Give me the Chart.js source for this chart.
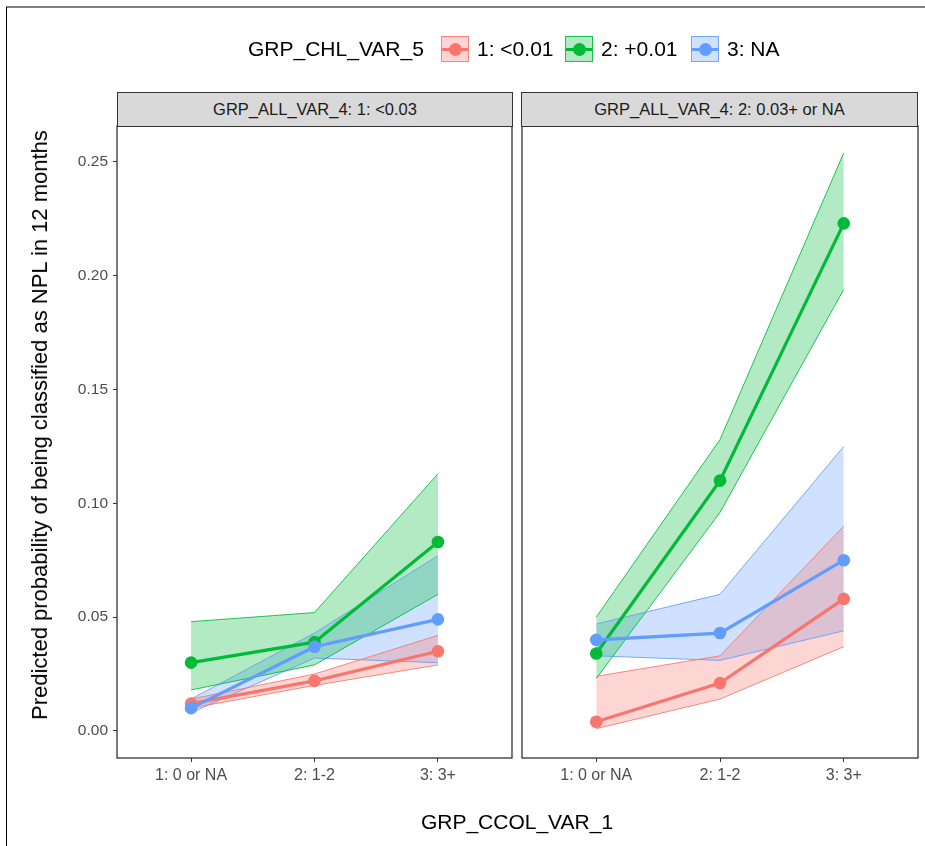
<!DOCTYPE html>
<html>
<head>
<meta charset="utf-8">
<script src="https://cdn.jsdelivr.net/npm/chart.js@4.4.1/dist/chart.umd.min.js"></script>
<style>
  html,body{margin:0;padding:0;background:#fff;}
  body{width:925px;height:846px;position:relative;overflow:hidden;font-family:"Liberation Sans",Arial,sans-serif;}
  canvas{position:absolute;left:0;top:0;}
  .txt{position:absolute;white-space:nowrap;color:#000;}
  .strip{position:absolute;background:#D9D9D9;border:1.3px solid #333;box-sizing:border-box;font-size:16.5px;color:#1A1A1A;display:flex;align-items:center;justify-content:center;}
  .key{position:absolute;box-sizing:border-box;border:1px solid;}
  .key .ln{position:absolute;left:0;right:0;top:50%;height:3px;margin-top:-1.5px;}
  .key .pt{position:absolute;left:50%;top:50%;width:13px;height:13px;margin:-6.5px 0 0 -6.5px;border-radius:50%;}
</style>
</head>
<body>
<div style="position:absolute;left:6px;top:6px;width:919px;height:2px;background:#7f7f7f;"></div>
<div style="position:absolute;left:6px;top:7px;width:1px;height:839px;background:#000;"></div>

<canvas id="c1" width="925" height="846"></canvas>
<canvas id="c2" width="925" height="846"></canvas>

<div id="legend"></div>
<div class="strip" style="left:117px;top:92px;width:396px;height:35px;">GRP_ALL_VAR_4: 1: &lt;0.03</div>
<div class="strip" style="left:521px;top:92px;width:397px;height:35px;">GRP_ALL_VAR_4: 2: 0.03+ or NA</div>
<div class="txt" style="left:40px;top:425px;font-size:22px;transform:translate(-50%,-50%) rotate(-90deg);">Predicted probability of being classified as NPL in 12 months</div>
<div class="txt" style="left:517px;top:822px;font-size:21px;transform:translate(-50%,-50%);">GRP_CCOL_VAR_1</div>

<script>
// ---- data ----
const categories = ['1: 0 or NA', '2: 1-2', '3: 3+'];
const legendTitle = 'GRP_CHL_VAR_5';
const seriesNames = ['1: <0.01', '2: +0.01', '3: NA'];
const panelNames = ['GRP_ALL_VAR_4: 1: <0.03', 'GRP_ALL_VAR_4: 2: 0.03+ or NA'];
const yTicks = [0, 0.05, 0.10, 0.15, 0.20, 0.25];

// panel 1 (1: <0.03)
const p1RedFit   = [0.012, 0.022, 0.035];
const p1RedLo    = [0.010, 0.020, 0.029];
const p1RedHi    = [0.014, 0.025, 0.042];
const p1GreenFit = [0.030, 0.039, 0.083];
const p1GreenLo  = [0.018, 0.029, 0.060];
const p1GreenHi  = [0.048, 0.052, 0.113];
const p1BlueFit  = [0.010, 0.037, 0.049];
const p1BlueLo   = [0.008, 0.032, 0.030];
const p1BlueHi   = [0.014, 0.043, 0.077];

// panel 2 (2: 0.03+ or NA)
const p2RedFit   = [0.004, 0.021, 0.058];
const p2RedLo    = [0.001, 0.014, 0.037];
const p2RedHi    = [0.024, 0.033, 0.090];
const p2GreenFit = [0.034, 0.110, 0.223];
const p2GreenLo  = [0.023, 0.096, 0.194];
const p2GreenHi  = [0.050, 0.128, 0.254];
const p2BlueFit  = [0.040, 0.043, 0.075];
const p2BlueLo   = [0.033, 0.031, 0.044];
const p2BlueHi   = [0.047, 0.060, 0.125];

// ---- styling ----
const colors = ['#F8766D', '#00BA38', '#619CFF'];
const fills  = ['rgba(248,118,109,0.3)', 'rgba(0,186,56,0.3)', 'rgba(97,156,255,0.3)'];
const edges  = ['rgba(248,118,109,0.85)', 'rgba(0,186,56,0.85)', 'rgba(97,156,255,0.85)'];
const Y_MIN = -0.0119, Y_MAX = 0.2658;

function pts(arr){ return arr.map((v,i)=>({x:i+1, y:v})); }

function buildDatasets(fit, lo, hi){
  const ds = [];
  for (let s = 0; s < 3; s++){
    ds.push({ data: pts(hi[s]), borderColor: edges[s], borderWidth: 1, pointRadius: 0,
              backgroundColor: fills[s], fill: '+1', order: 10 + s, tension: 0 });
    ds.push({ data: pts(lo[s]), borderColor: edges[s], borderWidth: 1, pointRadius: 0,
              fill: false, order: 10 + s, tension: 0 });
  }
  for (let s = 0; s < 3; s++){
    ds.push({ data: pts(fit[s]), borderColor: colors[s], borderWidth: 3.2,
              pointRadius: 6.3, pointBackgroundColor: colors[s], pointBorderWidth: 0,
              pointBorderColor: colors[s], fill: false, order: 2 - s, tension: 0 });
  }
  return ds;
}

const panelBorder = {
  id: 'panelBorder',
  afterDatasetsDraw(chart){
    const a = chart.chartArea, ctx = chart.ctx;
    ctx.save();
    ctx.strokeStyle = '#333';
    ctx.lineWidth = 1.3;
    ctx.strokeRect(a.left, a.top, a.right - a.left, a.bottom - a.top);
    ctx.restore();
  }
};

function makeChart(id, fit, lo, hi, showY, padL, padR){
  const X_AXIS_H = 30;
  return new Chart(document.getElementById(id), {
    type: 'line',
    data: { datasets: buildDatasets(fit, lo, hi) },
    options: {
      responsive: false, animation: false, devicePixelRatio: 1,
      layout: { padding: { left: padL, right: padR, top: 126, bottom: 846 - 758 - X_AXIS_H } },
      plugins: { legend: { display: false }, tooltip: { enabled: false }, filler: { drawTime: 'beforeDatasetsDraw' } },
      scales: {
        x: {
          type: 'linear', min: 0.4, max: 3.6,
          afterBuildTicks: sc => { sc.ticks = categories.map((c,i)=>({value:i+1})); },
          afterFit: sc => { sc.height = X_AXIS_H; },
          ticks: { callback: v => categories[v-1], autoSkip: false, maxRotation: 0, padding: 4,
                   color: '#4D4D4D', font: { family: 'Liberation Sans', size: 16 } },
          grid: { drawOnChartArea: false, drawTicks: true, tickLength: 4, color: '#333', lineWidth: 1 },
          border: { display: false }
        },
        y: {
          type: 'linear', min: Y_MIN, max: Y_MAX, display: showY,
          afterBuildTicks: sc => { sc.ticks = yTicks.map(v=>({value:v})); },
          afterFit: sc => { sc.width = showY ? 117 : 0; },
          ticks: { callback: v => Number(v).toFixed(2), padding: 5,
                   color: '#4D4D4D', font: { family: 'Liberation Sans', size: 15.5 } },
          grid: { drawOnChartArea: false, drawTicks: true, tickLength: 4, color: '#333', lineWidth: 1 },
          border: { display: false }
        }
      }
    },
    plugins: [panelBorder]
  });
}

makeChart('c1', [p1RedFit, p1GreenFit, p1BlueFit], [p1RedLo, p1GreenLo, p1BlueLo], [p1RedHi, p1GreenHi, p1BlueHi], true, 0, 925 - 512);
makeChart('c2', [p2RedFit, p2GreenFit, p2BlueFit], [p2RedLo, p2GreenLo, p2BlueLo], [p2RedHi, p2GreenHi, p2BlueHi], false, 522, 925 - 918);

// ---- legend (HTML) ----
const lg = document.getElementById('legend');
function addText(t, x, size){
  const d = document.createElement('div');
  d.className = 'txt'; d.textContent = t;
  d.style.left = x + 'px'; d.style.top = '49px'; d.style.fontSize = size + 'px';
  d.style.transform = 'translateY(-50%)';
  lg.appendChild(d);
}
addText(legendTitle, 248, 21);
const keyX = [441, 565, 691];
const labX = [477, 601, 727];
for (let s = 0; s < 3; s++){
  const k = document.createElement('div');
  k.className = 'key';
  k.style.left = keyX[s] + 'px'; k.style.top = '36px'; k.style.width = '28px'; k.style.height = '26px';
  k.style.background = fills[s]; k.style.borderColor = edges[s];
  const ln = document.createElement('div'); ln.className = 'ln'; ln.style.background = colors[s];
  const pt = document.createElement('div'); pt.className = 'pt'; pt.style.background = colors[s];
  k.appendChild(ln); k.appendChild(pt);
  lg.appendChild(k);
  addText(seriesNames[s], labX[s], 21);
}
</script>
</body>
</html>
